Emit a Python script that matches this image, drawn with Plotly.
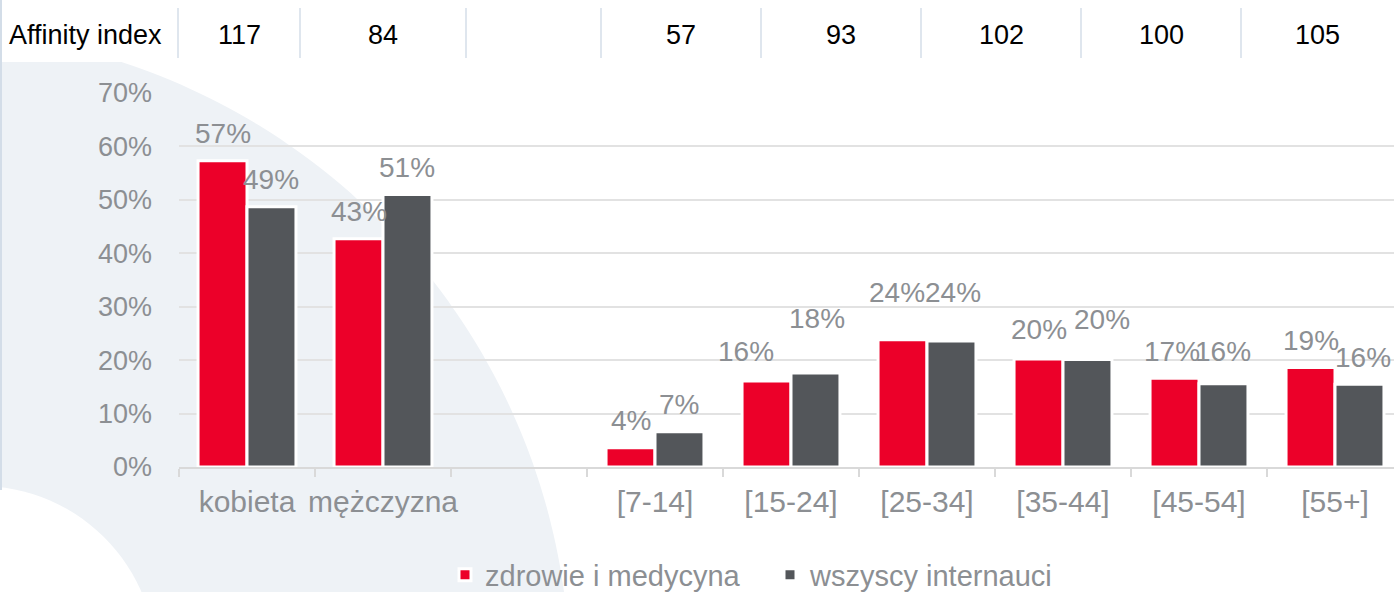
import numpy as np
import plotly.graph_objects as go

# ---------------- data ----------------
categories = ["kobieta", "mężczyzna", " ", "[7-14]", "[15-24]", "[25-34]", "[35-44]", "[45-54]", "[55+]"]
series_names = ["zdrowie i medycyna", "wszyscy internauci"]
health_values = [57.3, 42.7, None, 3.6, 16.1, 23.8, 20.2, 16.6, 18.6]
all_values = [48.7, 51.0, None, 6.6, 17.6, 23.6, 20.1, 15.6, 15.5]
affinity_label = "Affinity index"
affinity_values = ["117", "84", "", "57", "93", "102", "100", "105"]
y_ticks = [0, 10, 20, 30, 40, 50, 60, 70]
y_tick_text = [f"{t}%" for t in y_ticks]

# ---------------- style ----------------
W, H = 1394, 592
PLOT_L, PLOT_R, PLOT_T, PLOT_B = 179, 1394, 93, 467
RED = "#ec0029"
DARK = "#53565a"
TXT = "#8c8f93"
BG_SHAPE = "#eef2f6"
FONT = "Liberation Sans, Arial, sans-serif"
CAT_PX = 136.0
# extra label nudges (px) as placed in the original chart: (dx, dy-up)
label_nudge_health = [(0, 0), (0, 0), (0, 0), (0, 0), (-21, 2), (-6, 20), (0, 3), (-3, 0), (0, 0)]
label_nudge_all = [(0, 0), (0, 0), (0, 0), (0, 0), (2, 27), (2, 21), (15, 13), (0, 5), (4, 0)]

pw = PLOT_R - PLOT_L
ph = PLOT_B - PLOT_T


def px(x):
    return (x - PLOT_L) / pw


def py(y):
    return (PLOT_B - y) / ph


fig = go.Figure()
colors = [RED, DARK]
for name, vals, col in zip(series_names, [health_values, all_values], colors):
    fig.add_trace(go.Bar(
        name=name, x=categories, y=vals,
        marker=dict(color=col, line=dict(color="white", width=3)),
        hoverinfo="skip",
    ))

# data labels
for k, (vals, nudges) in enumerate([(health_values, label_nudge_health), (all_values, label_nudge_all)]):
    shift = (-1 if k == 0 else 1) * 0.72 * CAT_PX / 4
    for c, v, (dx, dy) in zip(categories, vals, nudges):
        if v is None:
            continue
        fig.add_annotation(x=c, y=v, text=f"{v:.0f}%", showarrow=False,
                           xshift=shift + dx, yshift=27 + dy, yanchor="middle",
                           font=dict(size=28, color=TXT, family=FONT))

# background decoration
shapes = []
cx, cy, R = -80, 680, 650
ys = np.linspace(62, 600, 120)
xs = cx + np.sqrt(np.clip(R**2 - (ys - cy) ** 2, 0, None))
pts = [(-5, 62)] + list(zip(xs, ys)) + [(-5, 600)]
path = "M " + " L ".join(f"{px(a):.5f},{py(b):.5f}" for a, b in pts) + " Z"
shapes.append(dict(type="path", xref="paper", yref="paper", path=path,
                   fillcolor=BG_SHAPE, line=dict(width=0), layer="below"))
wcx, wcy, wr = -20, 662, 176
ang = np.linspace(0, 2 * np.pi, 120)
wpts = list(zip(wcx + wr * np.cos(ang), wcy + wr * np.sin(ang)))
wpath = "M " + " L ".join(f"{px(a):.5f},{py(b):.5f}" for a, b in wpts) + " Z"
shapes.append(dict(type="path", xref="paper", yref="paper", path=wpath,
                   fillcolor="white", line=dict(width=0), layer="below"))
shapes.append(dict(type="line", xref="paper", yref="paper", x0=px(1), x1=px(1),
                   y0=py(0), y1=py(490), line=dict(color="#d3dde8", width=2), layer="below"))

# affinity table
table_edges = [0, 178, 300, 466, 601, 761, 921, 1081, 1241, 1394]
for e in table_edges[1:-1]:
    shapes.append(dict(type="line", xref="paper", yref="paper", x0=px(e), x1=px(e),
                       y0=py(8), y1=py(58), line=dict(color="#dfe6ee", width=2)))
fig.add_annotation(xref="paper", yref="paper", x=px(7), y=py(35), xanchor="left",
                   yanchor="middle", text=affinity_label, showarrow=False,
                   font=dict(size=27, color="black", family=FONT))
for i, v in enumerate(affinity_values):
    mid = (table_edges[i + 1] + table_edges[i + 2]) / 2
    fig.add_annotation(xref="paper", yref="paper", x=px(mid), y=py(35),
                       xanchor="center", yanchor="middle", text=v, showarrow=False,
                       font=dict(size=27, color="black", family=FONT))

fig.update_layout(
    width=W, height=H,
    margin=dict(l=PLOT_L, r=W - PLOT_R, t=PLOT_T, b=H - PLOT_B, pad=0, autoexpand=False),
    paper_bgcolor="white", plot_bgcolor="rgba(0,0,0,0)",
    font=dict(family=FONT, color=TXT),
    barmode="group", bargap=0.28, bargroupgap=0.0,
    shapes=shapes,
    showlegend=True,
    legend=dict(orientation="h", x=px(445), xanchor="left", y=py(575), yanchor="middle",
                entrywidth=280, entrywidthmode="pixels",
                font=dict(size=29, color=TXT, family=FONT), bgcolor="rgba(0,0,0,0)"),
    xaxis=dict(range=[-0.5, -0.5 + pw / CAT_PX], showline=True, linecolor="#d9d9d9", linewidth=2,
               ticks="outside", tickson="boundaries", ticklen=8, tickcolor="#d9d9d9", tickwidth=2,
               tickangle=0, automargin=False,
               tickfont=dict(size=30, color=TXT, family=FONT), ticklabelstandoff=7,
               showgrid=False, fixedrange=True),
    yaxis=dict(range=[0, 70], tickmode="array", tickvals=y_ticks, ticktext=y_tick_text,
               showgrid=True, automargin=False, fixedrange=True,
               gridcolor="#e2e2e2", gridwidth=2, zeroline=False, showline=False,
               tickfont=dict(size=27, color=TXT, family=FONT), ticklabelstandoff=26),
)

fig.write_html("out.html", config={"displayModeBar": False},
               post_script="document.body.style.margin='0';document.body.style.overflow='hidden';")
